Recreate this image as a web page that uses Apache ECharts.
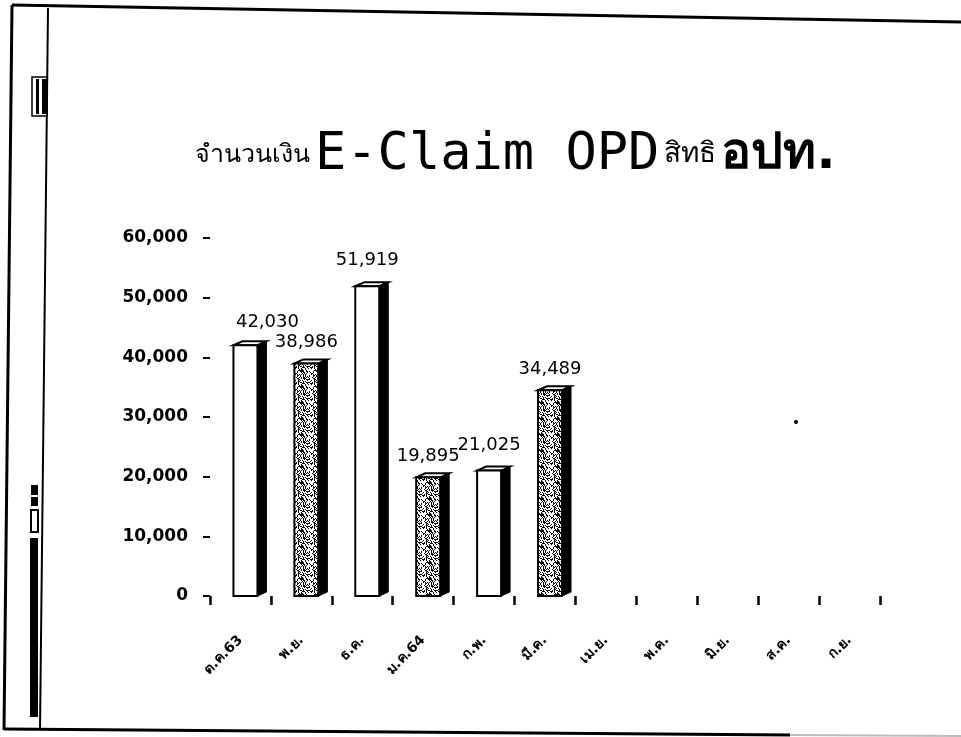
<!DOCTYPE html>
<html>
<head>
<meta charset="utf-8">
<script src="https://cdn.jsdelivr.net/npm/echarts@6/dist/echarts.min.js"></script>
<style>
  html, body { margin: 0; padding: 0; background: #fff; }
  #main { width: 961px; height: 737px; }
</style>
</head>
<body>
<div id="main"></div>
<script>
// month labels (fiscal year Oct 63 - Sep 64, as printed)
const months = ['ต.ค.63', 'พ.ย.', 'ธ.ค.', 'ม.ค.64', 'ก.พ.', 'มี.ค.', 'เม.ย.', 'พ.ค.', 'มิ.ย.', 'ส.ค.', 'ก.ย.']
// baht claimed per month
const amounts = [42030, 38986, 51919, 19895, 21025, 34489]
const yTicks = [0, 10000, 20000, 30000, 40000, 50000, 60000]

var chartDom = document.getElementById('main')
var myChart = echarts.init(chartDom)

// speckled fill for every second bar
function speckle () {
  var c = document.createElement('canvas')
  c.width = 16
  c.height = 16
  var ctx = c.getContext('2d')
  ctx.fillStyle = '#fff'
  ctx.fillRect(0, 0, 16, 16)
  ctx.fillStyle = '#000'
  for (var x = 0; x < 16; x++) {
    for (var y = 0; y < 16; y++) {
      var h = ((x * 31 + y * 17) ^ (x * y * 7 + 3)) % 7
      if (h < 3) ctx.fillRect(x, y, 1, 1)
    }
  }
  return c
}
var dots = speckle()

const fmt = v => v.toLocaleString('en-US')
const labelNudge = { 0: [22, -2], 2: [0, -5], 4: [0, -4] }

function renderBar (params, api) {
  var idx = api.value(0)
  var val = api.value(1)
  var top = api.coord([idx, val])
  var base = api.coord([idx, 0])
  var w = 24, d = 9, dy = 4
  var x = top[0] - w / 2 + 5
  var t = top[1], b = base[1]
  var nudge = labelNudge[idx] || [0, 0]
  return {
    type: 'group',
    children: [
      {
        type: 'polygon',
        shape: { points: [[x + w, t], [x + w + d, t - dy], [x + w + d, b - dy], [x + w, b]] },
        style: { fill: '#000', stroke: '#000', lineWidth: 1 }
      },
      {
        type: 'polygon',
        shape: { points: [[x, t], [x + d, t - dy], [x + w + d, t - dy], [x + w, t]] },
        style: { fill: '#fff', stroke: '#000', lineWidth: 2 }
      },
      {
        type: 'rect',
        shape: { x: x, y: t, width: w, height: b - t },
        style: {
          fill: idx % 2 ? { image: dots, repeat: 'repeat' } : '#fff',
          stroke: '#000',
          lineWidth: 2
        }
      },
      {
        type: 'text',
        x: x + w / 2 + nudge[0],
        y: t - dy - 8 + nudge[1],
        style: {
          text: fmt(val),
          align: 'center',
          verticalAlign: 'bottom',
          font: '18px "DejaVu Sans"',
          fill: '#000'
        }
      }
    ]
  }
}

var option = {
  backgroundColor: '#fff',
  animation: false,
  title: {
    text: '{a|จำนวนเงิน} {b|E-Claim OPD} {c|สิทธิ} {d|อปท.}',
    left: 190,
    top: 124,
    textStyle: {
      rich: {
        a: { fontSize: 25, fontWeight: 'normal', fontFamily: 'DejaVu Sans', color: '#000' },
        b: { fontSize: 52, fontWeight: 'normal', fontFamily: 'DejaVu Sans Mono', color: '#000' },
        c: { fontSize: 28, fontWeight: 'normal', fontFamily: 'DejaVu Sans', color: '#000' },
        d: { fontSize: 50, fontWeight: 'bold', fontFamily: 'DejaVu Sans', color: '#000' }
      }
    }
  },
  grid: { left: 210, right: 81, top: 238, bottom: 141 },
  xAxis: {
    type: 'category',
    data: months,
    axisLine: { show: false },
    axisTick: { show: true, length: 9, lineStyle: { color: '#000', width: 2.5 } },
    axisLabel: {
      rotate: 45,
      margin: 42,
      interval: 0,
      color: '#000',
      fontSize: 14,
      fontWeight: 'bold',
      fontFamily: 'DejaVu Sans'
    }
  },
  yAxis: {
    type: 'value',
    min: yTicks[0],
    max: yTicks[yTicks.length - 1],
    interval: yTicks[1] - yTicks[0],
    splitLine: { show: false },
    axisLine: { show: false },
    axisTick: { show: true, length: 7, lineStyle: { color: '#000', width: 2 } },
    axisLabel: {
      margin: 22,
      color: '#000',
      fontSize: 17,
      fontWeight: 'bold',
      fontFamily: 'DejaVu Sans',
      formatter: fmt
    }
  },
  series: [
    {
      type: 'custom',
      renderItem: renderBar,
      data: amounts.map((v, i) => [i, v])
    }
  ],
  graphic: [
    // scanned page frame
    { type: 'polyline', shape: { points: [[12, 5], [961, 22]] }, style: { stroke: '#000', lineWidth: 3, fill: null } },
    { type: 'polyline', shape: { points: [[12, 5], [4, 730]] }, style: { stroke: '#000', lineWidth: 3, fill: null } },
    { type: 'polyline', shape: { points: [[48, 8], [40, 730]] }, style: { stroke: '#000', lineWidth: 2, fill: null } },
    { type: 'polyline', shape: { points: [[4, 729], [790, 735]] }, style: { stroke: '#000', lineWidth: 3, fill: null } },
    { type: 'polyline', shape: { points: [[790, 735], [961, 736]] }, style: { stroke: '#bbb', lineWidth: 2, fill: null } },
    // side markings
    { type: 'rect', shape: { x: 32, y: 77, width: 15, height: 39 }, style: { fill: '#fff', stroke: '#000', lineWidth: 1.5 } },
    { type: 'rect', shape: { x: 36, y: 79, width: 3, height: 35 }, style: { fill: '#000' } },
    { type: 'rect', shape: { x: 42, y: 79, width: 5, height: 35 }, style: { fill: '#000' } },
    { type: 'rect', shape: { x: 31, y: 485, width: 7, height: 10 }, style: { fill: '#000' } },
    { type: 'rect', shape: { x: 31, y: 497, width: 7, height: 9 }, style: { fill: '#000' } },
    { type: 'rect', shape: { x: 31, y: 510, width: 7, height: 22 }, style: { fill: '#fff', stroke: '#000', lineWidth: 2 } },
    { type: 'rect', shape: { x: 30, y: 538, width: 8, height: 179 }, style: { fill: '#000' } },
    { type: 'circle', shape: { cx: 796, cy: 422, r: 2 }, style: { fill: '#000' } }
  ]
}

option && myChart.setOption(option)

window.addEventListener('resize', () => {
  myChart.resize()
})
</script>
</body>
</html>
